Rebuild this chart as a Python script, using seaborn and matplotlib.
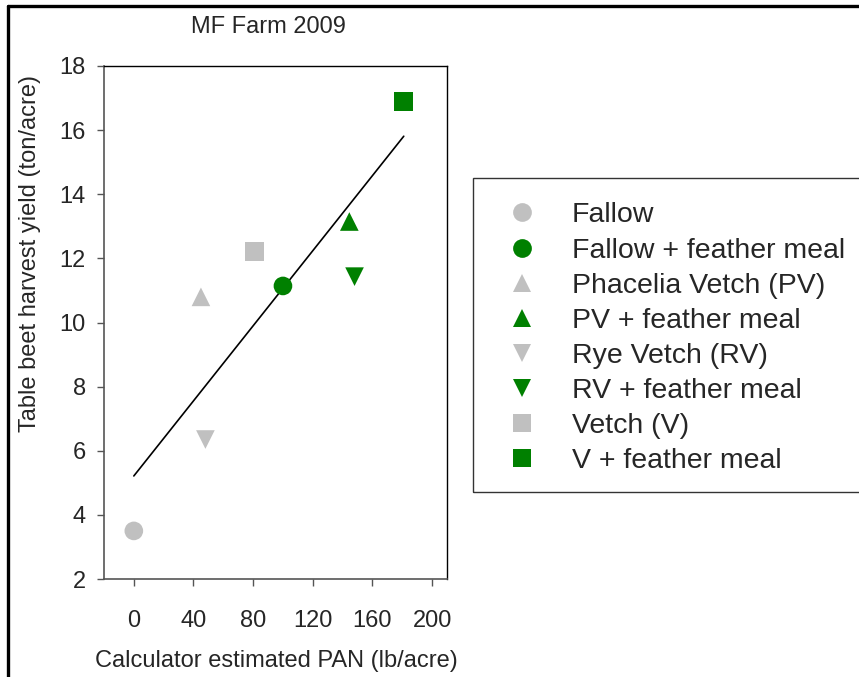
import seaborn as sns
import numpy as np
import matplotlib.pyplot as plt
from matplotlib.lines import Line2D
from matplotlib.patches import Rectangle
import pandas as pd

# data
treatments = ["Fallow", "Fallow + feather meal", "Phacelia Vetch (PV)", "PV + feather meal",
              "Rye Vetch (RV)", "RV + feather meal", "Vetch (V)", "V + feather meal"]
pan = [0, 100, 45, 144.5, 48, 148, 81, 181]
yield_ton = [3.5, 11.14, 10.8, 13.15, 6.35, 11.43, 12.21, 16.89]

gray, green = "#c0c0c0", "#008000"
palette = dict(zip(treatments, [gray, green] * 4))
markers = dict(zip(treatments, ["o", "o", "^", "^", "v", "v", "s", "s"]))

df = pd.DataFrame({"treatment": treatments, "pan": pan, "yield": yield_ton})

sns.set_style("ticks")
plt.rcParams["font.family"] = ["Liberation Sans", "DejaVu Sans"]

fig = plt.figure(figsize=(8.59, 6.77), dpi=100)
ax = fig.add_axes([104 / 859, 1 - 579 / 677, (447 - 104) / 859, (579 - 66) / 677])

sns.regplot(data=df, x="pan", y="yield", ax=ax, scatter=False, ci=None, truncate=True,
            line_kws=dict(color="black", lw=1.2))
sns.scatterplot(data=df, x="pan", y="yield", hue="treatment", style="treatment",
                palette=palette, markers=markers, s=180, linewidth=0, ax=ax, zorder=3)

ax.set(xlim=(-20, 210), ylim=(2, 18), xlabel="", ylabel="")
ax.set_xticks([0, 40, 80, 120, 160, 200])
ax.set_yticks(np.arange(2, 19, 2))
ax.tick_params(axis="x", labelsize=17, length=5, width=1, color="#555555", pad=17)
ax.tick_params(axis="y", labelsize=17, length=5, width=1, color="#555555", pad=8)
for side in ["left", "bottom"]:
    ax.spines[side].set_color("#555555")
    ax.spines[side].set_linewidth(1.2)
for side in ["top", "right"]:
    ax.spines[side].set_visible(True)
    ax.spines[side].set_color("black")
    ax.spines[side].set_linewidth(1)

handles, labels = ax.get_legend_handles_labels()
ax.get_legend().remove()
for h in handles:
    h.set_markersize(13.5)
fig.legend(handles, labels, loc="upper left", bbox_to_anchor=(494 / 859, 1 - 191 / 677),
           frameon=False, fontsize=20.5, handletextpad=1.14, labelspacing=0.32,
           borderaxespad=0, handlelength=1.2)
fig.patches.append(Rectangle((473 / 859, 1 - 492 / 677), 1, (492 - 178) / 677,
                             transform=fig.transFigure, fill=False, edgecolor="#333333", lw=1))

fig.text(268 / 859, 1 - 27 / 677, "MF Farm 2009", ha="center", va="center", fontsize=17)
fig.text(276 / 859, 1 - 661 / 677, "Calculator estimated PAN (lb/acre)", ha="center",
         va="center", fontsize=17)
fig.text(30 / 859, 1 - 254 / 677, "Table beet harvest yield (ton/acre)", ha="center",
         va="center", rotation=90, fontsize=17)

# outer frame (left and top edges only, like the cropped source)
fig.lines.append(Line2D([8 / 859, 8 / 859], [0, 1 - 6 / 677], transform=fig.transFigure,
                        color="black", lw=2.4))
fig.lines.append(Line2D([8 / 859, 1], [1 - 6 / 677, 1 - 6 / 677], transform=fig.transFigure,
                        color="black", lw=2.4))

fig.savefig("out.png", dpi=100)
